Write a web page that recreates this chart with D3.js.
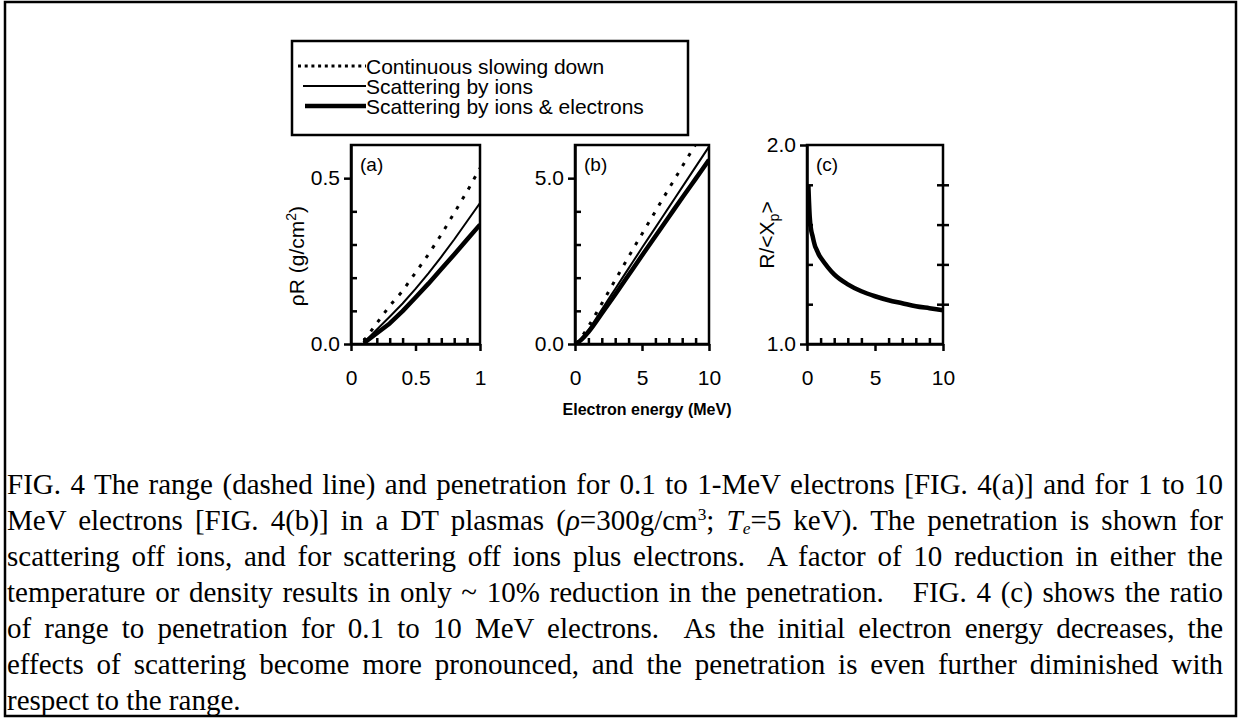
<!DOCTYPE html>
<html>
<head>
<meta charset="utf-8">
<script src="https://cdn.jsdelivr.net/npm/d3@7"></script>
<style>
body { margin: 0; background: #fff; }
#wrap { position: relative; width: 1241px; height: 719px; overflow: hidden; background: #fff; }
#wrap svg { position: absolute; left: 0; top: 0; }
.cap {
  position: absolute; left: 7px; width: 1216px;
  font-family: "Liberation Serif", "Times New Roman", serif;
  font-size: 29px; line-height: 36px; color: #000;
  text-align: justify; text-align-last: justify; white-space: nowrap;
}
.cap.last { text-align-last: left; }
.cap sup, .cap sub { font-size: 0.6em; line-height: 0; position: relative; vertical-align: 0; }
.cap sup { top: -0.55em; }
.cap sub { top: 0.25em; }
</style>
</head>
<body>
<div id="wrap"></div>
<script>
// panel (a): 0.1 - 1 MeV
var energyA = [0.1, 0.3, 0.4, 0.5, 0.6, 0.7, 0.8, 0.9, 1.0];
var rangeA  = [0.010, 0.115, 0.160, 0.215, 0.270, 0.330, 0.395, 0.460, 0.530];
var ionsA   = [0.005, 0.082, 0.122, 0.166, 0.213, 0.263, 0.315, 0.370, 0.425];
var bothA   = [0.003, 0.062, 0.099, 0.140, 0.182, 0.226, 0.270, 0.315, 0.360];

// panel (b): up to 10 MeV
var energyB = [0.1, 0.5, 1, 2, 3, 4, 5, 6, 7, 8, 9, 10];
var rangeB  = [0.010, 0.215, 0.53, 1.22, 1.93, 2.63, 3.32, 4.00, 4.68, 5.35, 6.02, 6.68];
var ionsB   = [0.005, 0.166, 0.425, 1.04, 1.66, 2.28, 2.90, 3.51, 4.12, 4.73, 5.34, 5.95];
var bothB   = [0.003, 0.140, 0.360, 0.92, 1.49, 2.08, 2.67, 3.25, 3.83, 4.41, 4.98, 5.55];

// panel (c): ratio range / penetration
var energyC = [0.1, 0.2, 0.3, 0.4, 0.5, 0.6, 0.7, 0.8, 0.9, 1, 2, 3, 4, 5, 6, 7, 8, 9, 10];
var ratioC  = [1.80, 1.64, 1.575, 1.545, 1.515, 1.49, 1.475, 1.46, 1.445, 1.435, 1.35, 1.30, 1.265, 1.24, 1.22, 1.205, 1.19, 1.18, 1.17];

var seriesNames = ["Continuous slowing down", "Scattering by ions", "Scattering by ions & electrons"];
var panelNames = ["(a)", "(b)", "(c)"];
var xLabel = "Electron energy (MeV)";

var captionLines = [
  "FIG. 4 The range (dashed line) and penetration for 0.1 to 1-MeV electrons [FIG. 4(a)] and for 1 to 10",
  "MeV electrons [FIG. 4(b)] in a DT plasmas (<i>&rho;</i>=300g/cm<sup>3</sup>; <i>T<sub>e</sub></i>=5 keV). The penetration is shown for",
  "scattering off ions, and for scattering off ions plus electrons.&nbsp; A factor of 10 reduction in either the",
  "temperature or density results in only ~ 10% reduction in the penetration.&nbsp;&nbsp; FIG. 4 (c) shows the ratio",
  "of range to penetration for 0.1 to 10 MeV electrons.&nbsp; As the initial electron energy decreases, the",
  "effects of scattering become more pronounced, and the penetration is even further diminished with",
  "respect to the range."
];

var font = "'Liberation Sans', Arial, sans-serif";
var styles = [
  { width: 3, dash: "3.5,8" },
  { width: 2, dash: null },
  { width: 4.5, dash: null }
];

var wrap = d3.select("#wrap");
var svg = wrap.append("svg").attr("width", 1241).attr("height", 719);

// outer frame
svg.append("rect")
  .attr("x", 5).attr("y", 2).attr("width", 1231).attr("height", 714)
  .attr("fill", "none").attr("stroke", "#000").attr("stroke-width", 2.5);

var plotTop = 145, plotBottom = 344;

var panels = [
  { x0: 351, x1: 480, xd: [0, 1], yd: [0, 0.6],
    xMajor: [0, 0.5, 1], xMinor: [0.1, 0.2, 0.3, 0.4, 0.6, 0.7, 0.8, 0.9],
    yMajor: [0, 0.5], yMinor: [0.1, 0.2, 0.3, 0.4],
    xFmt: d => d === 0.5 ? "0.5" : String(d), yFmt: d3.format(".1f"),
    series: [
      energyA.map((e, i) => [e, rangeA[i]]),
      energyA.map((e, i) => [e, ionsA[i]]),
      energyA.map((e, i) => [e, bothA[i]])
    ], curve: d3.curveLinear },
  { x0: 575, x1: 709, xd: [0, 10], yd: [0, 6],
    xMajor: [0, 5, 10], xMinor: [1, 2, 3, 4, 6, 7, 8, 9],
    yMajor: [0, 5], yMinor: [1, 2, 3, 4],
    xFmt: d3.format("d"), yFmt: d3.format(".1f"),
    series: [
      energyB.map((e, i) => [e, rangeB[i]]),
      energyB.map((e, i) => [e, ionsB[i]]),
      energyB.map((e, i) => [e, bothB[i]])
    ], curve: d3.curveMonotoneX },
  { x0: 807, x1: 943, xd: [0, 10], yd: [1, 2],
    xMajor: [0, 5, 10], xMinor: [1, 2, 3, 4, 6, 7, 8, 9],
    yMajor: [1, 2], yMinor: [1.2, 1.4, 1.6, 1.8],
    xFmt: d3.format("d"), yFmt: d3.format(".1f"),
    series: [ null, null, energyC.map((e, i) => [e, ratioC[i]]) ],
    curve: d3.curveMonotoneX, rightTicks: true }
];

function styleAxis(g) {
  g.attr("font-family", font).attr("font-size", 21);
  g.selectAll("path, line").attr("stroke", "#000").attr("stroke-width", 2.5);
  g.selectAll("text").attr("fill", "#000");
}

panels.forEach(function(p, k) {
  var x = d3.scaleLinear().domain(p.xd).range([p.x0, p.x1]);
  var y = d3.scaleLinear().domain(p.yd).range([plotBottom, plotTop]);
  var g = svg.append("g");

  var clipId = "clip" + k;
  svg.append("clipPath").attr("id", clipId)
    .append("rect").attr("x", p.x0).attr("y", plotTop)
    .attr("width", p.x1 - p.x0).attr("height", plotBottom - plotTop);

  var line = d3.line().x(d => x(d[0])).y(d => y(d[1])).curve(p.curve);
  p.series.forEach(function(s, i) {
    if (!s) return;
    g.append("path")
      .attr("d", line(s))
      .attr("clip-path", "url(#" + clipId + ")")
      .attr("fill", "none").attr("stroke", "#000")
      .attr("stroke-width", styles[i].width)
      .attr("stroke-dasharray", styles[i].dash)
      .attr("stroke-linejoin", "round");
  });

  // box
  g.append("rect")
    .attr("x", p.x0).attr("y", plotTop)
    .attr("width", p.x1 - p.x0).attr("height", plotBottom - plotTop)
    .attr("fill", "none").attr("stroke", "#000").attr("stroke-width", 2.5);

  // minor ticks point inward
  g.append("g").attr("transform", "translate(0," + plotBottom + ")")
    .call(d3.axisBottom(x).tickValues(p.xMinor).tickSize(-6).tickSizeOuter(0).tickFormat(""))
    .call(styleAxis).select(".domain").remove();
  g.append("g").attr("transform", "translate(" + p.x0 + ",0)")
    .call(d3.axisLeft(y).tickValues(p.yMinor).tickSize(-6).tickSizeOuter(0).tickFormat(""))
    .call(styleAxis).select(".domain").remove();

  // major ticks point outward, with labels
  g.append("g").attr("transform", "translate(0," + plotBottom + ")")
    .call(d3.axisBottom(x).tickValues(p.xMajor).tickSize(7).tickSizeOuter(0).tickPadding(19).tickFormat(p.xFmt))
    .call(styleAxis);
  g.append("g").attr("transform", "translate(" + p.x0 + ",0)")
    .call(d3.axisLeft(y).tickValues(p.yMajor).tickSize(7).tickSizeOuter(0).tickPadding(4).tickFormat(p.yFmt))
    .call(styleAxis);

  if (p.rightTicks) {
    var rt = g.append("g").attr("transform", "translate(" + p.x1 + ",0)")
      .call(d3.axisRight(y).tickValues(p.yMinor).tickSize(6).tickSizeOuter(0).tickFormat(""))
      .call(styleAxis);
    rt.select(".domain").remove();
    rt.selectAll(".tick line").attr("x1", -6);
  }

  g.append("text")
    .attr("x", p.x0 + 9).attr("y", 171)
    .attr("font-family", font).attr("font-size", 19)
    .text(panelNames[k]);
});

// y titles
var ya = svg.append("text")
  .attr("transform", "translate(304,256) rotate(-90)")
  .attr("text-anchor", "middle")
  .attr("font-family", font).attr("font-size", 21);
ya.append("tspan").text("\u03c1R (g/cm");
ya.append("tspan").attr("font-size", 14).attr("dy", -8).text("2");
ya.append("tspan").attr("dy", 8).text(")");

var yc = svg.append("text")
  .attr("transform", "translate(774,235) rotate(-90)")
  .attr("text-anchor", "middle")
  .attr("font-family", font).attr("font-size", 21);
yc.append("tspan").text("R/<X");
yc.append("tspan").attr("font-size", 14).attr("dy", 5).text("p");
yc.append("tspan").attr("dy", -5).text(">");

// x title
svg.append("text")
  .attr("x", 647).attr("y", 415)
  .attr("text-anchor", "middle")
  .attr("font-family", font).attr("font-size", 16).attr("font-weight", "bold")
  .text(xLabel);

// legend
var lg = svg.append("g");
lg.append("rect")
  .attr("x", 292).attr("y", 41).attr("width", 396).attr("height", 94)
  .attr("fill", "#fff").attr("stroke", "#000").attr("stroke-width", 2.5);
var legendStart = [298, 303, 305];
var legendDash = ["3,3.7", null, null];
seriesNames.forEach(function(name, i) {
  var yy = 66 + i * 20;
  lg.append("line")
    .attr("x1", legendStart[i]).attr("x2", 366)
    .attr("y1", yy).attr("y2", yy)
    .attr("stroke", "#000").attr("stroke-width", styles[i].width)
    .attr("stroke-dasharray", legendDash[i]);
  lg.append("text")
    .attr("x", 366).attr("y", yy + 8)
    .attr("font-family", font).attr("font-size", 21)
    .text(name);
});

// caption
captionLines.forEach(function(t, i) {
  wrap.append("div")
    .attr("class", "cap" + (i === captionLines.length - 1 ? " last" : ""))
    .style("top", (466 + i * 36) + "px")
    .html(t);
});
</script>
</body>
</html>
